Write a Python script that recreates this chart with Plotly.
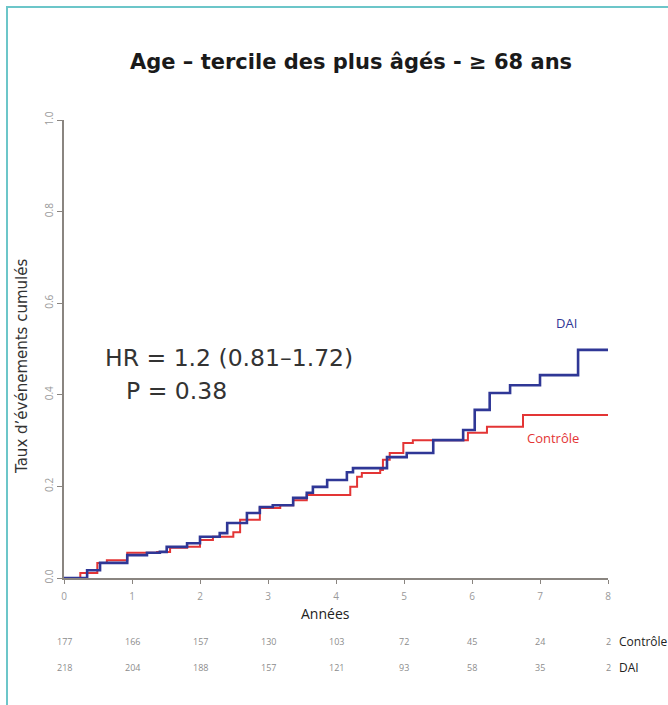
import plotly.graph_objects as go

# ---- data ----
title_text = "Age – tercile des plus âgés - ≥ 68 ans"

dai_t = [0, 0.15, 0.34, 0.53, 0.93, 1.22, 1.41, 1.51, 1.81, 2.00, 2.29, 2.40, 2.69, 2.88,
         3.07, 3.37, 3.57, 3.66, 3.87, 4.16, 4.25, 4.75, 5.04, 5.43, 5.87, 6.04, 6.26,
         6.56, 7.00, 7.56, 8.00]
dai_v = [0, 0.0, 0.017, 0.033, 0.050, 0.055, 0.057, 0.068, 0.076, 0.090, 0.098, 0.120,
         0.142, 0.155, 0.159, 0.175, 0.186, 0.199, 0.214, 0.231, 0.240, 0.264, 0.273,
         0.301, 0.323, 0.367, 0.404, 0.421, 0.443, 0.498, 0.498]

ctl_t = [0, 0.24, 0.49, 0.63, 0.93, 1.37, 1.56, 1.81, 2.00, 2.19, 2.49, 2.59, 2.88, 3.18,
         3.37, 3.57, 4.10, 4.21, 4.31, 4.38, 4.65, 4.69, 4.79, 4.99, 5.13, 5.94, 6.22,
         6.75, 8.00]
ctl_v = [0, 0.011, 0.033, 0.039, 0.055, 0.057, 0.066, 0.068, 0.083, 0.090, 0.100, 0.127,
         0.153, 0.159, 0.170, 0.181, 0.181, 0.199, 0.221, 0.229, 0.236, 0.258, 0.273,
         0.295, 0.301, 0.317, 0.330, 0.356, 0.356]

x_ticks = [0, 1, 2, 3, 4, 5, 6, 7, 8]
y_ticks = [0.0, 0.2, 0.4, 0.6, 0.8, 1.0]
risk_controle = [177, 166, 157, 130, 103, 72, 45, 24, 2]
risk_dai = [218, 204, 188, 157, 121, 93, 58, 35, 2]

hr_line1 = "HR = 1.2 (0.81–1.72)"
hr_line2 = "P = 0.38"

BLUE = "#2f3796"
RED = "#e33535"
AXIS = "#8a8580"
TICKTXT = "#9a9a9a"
FONT = "DejaVu Sans"
FONT2 = "Open Sans"

fig = go.Figure()
fig.add_trace(go.Scatter(x=ctl_t, y=ctl_v, mode="lines", line=dict(color=RED, width=2, shape="hv"),
                         showlegend=False, hoverinfo="skip"))
fig.add_trace(go.Scatter(x=dai_t, y=dai_v, mode="lines", line=dict(color=BLUE, width=2.6, shape="hv"),
                         showlegend=False, hoverinfo="skip"))

L, R, T, B = 64, 60, 120, 127
W, H = 668, 705
pw, ph = W - L - R, H - T - B

def px(xp):
    return (xp - L) / pw

def py(yp):
    return (H - B - yp) / ph

annotations = []
# title
annotations.append(dict(x=px(351), y=py(62), xref="paper", yref="paper", text="<b>" + title_text + "</b>",
                        showarrow=False, font=dict(family=FONT, size=21, color="#1a1a1a"),
                        xanchor="center", yanchor="middle"))
# y axis title
annotations.append(dict(x=px(22), y=py(367), xref="paper", yref="paper", text="Taux d’événements cumulés",
                        textangle=-90, showarrow=False, font=dict(family=FONT, size=15, color="#333333"),
                        xanchor="center", yanchor="middle"))
# x axis title
annotations.append(dict(x=px(325), y=py(613), xref="paper", yref="paper", text="Années",
                        showarrow=False, font=dict(family=FONT2, size=14, color="#222222"),
                        bgcolor="white", borderpad=0, xanchor="center", yanchor="middle"))
# HR text
annotations.append(dict(x=px(103), y=py(358), xref="paper", yref="paper", text=hr_line1,
                        showarrow=False, font=dict(family=FONT, size=23.5, color="#333333"),
                        xanchor="left", yanchor="middle"))
annotations.append(dict(x=px(124), y=py(391), xref="paper", yref="paper", text=hr_line2,
                        showarrow=False, font=dict(family=FONT, size=23.5, color="#333333"),
                        xanchor="left", yanchor="middle"))
# curve labels
annotations.append(dict(x=px(566), y=py(323), xref="paper", yref="paper", text="DAI",
                        showarrow=False, font=dict(family=FONT2, size=13, color=BLUE),
                        xanchor="center", yanchor="middle"))
annotations.append(dict(x=px(553), y=py(438), xref="paper", yref="paper", text="Contrôle",
                        showarrow=False, font=dict(family=FONT2, size=13, color=RED),
                        xanchor="center", yanchor="middle"))
# risk table
for xv, n in zip(x_ticks, risk_controle):
    annotations.append(dict(x=xv, y=py(641), xref="x", yref="paper", text=str(n), showarrow=False,
                            font=dict(family=FONT2, size=9, color="#8c8c8c"), xanchor="center", yanchor="middle"))
for xv, n in zip(x_ticks, risk_dai):
    annotations.append(dict(x=xv, y=py(667), xref="x", yref="paper", text=str(n), showarrow=False,
                            font=dict(family=FONT2, size=9, color="#8c8c8c"), xanchor="center", yanchor="middle"))
annotations.append(dict(x=px(617), y=py(641), xref="paper", yref="paper", text="Contrôle", showarrow=False,
                        font=dict(family=FONT2, size=12, color="#222222"), xanchor="left", yanchor="middle"))
annotations.append(dict(x=px(617), y=py(667), xref="paper", yref="paper", text="DAI", showarrow=False,
                        font=dict(family=FONT2, size=12, color="#222222"), xanchor="left", yanchor="middle"))

shapes = [dict(type="rect", xref="paper", yref="paper", x0=px(7), x1=px(700), y0=py(760), y1=py(7),
               line=dict(color="#6cc6c9", width=2), fillcolor="rgba(0,0,0,0)", layer="below")]

fig.update_layout(
    width=W, height=H, margin=dict(l=L, r=R, t=T, b=B, autoexpand=False),
    paper_bgcolor="white", plot_bgcolor="white",
    annotations=annotations, shapes=shapes,
    xaxis=dict(range=[0, 8], tickvals=x_ticks, ticktext=[str(v) for v in x_ticks],
               showgrid=False, zeroline=False, showline=True, linecolor=AXIS, linewidth=1.5,
               ticks="outside", ticklen=4, tickcolor=AXIS, ticklabelstandoff=4,
               tickfont=dict(family=FONT2, size=10, color=TICKTXT)),
    yaxis=dict(range=[0, 1], tickvals=y_ticks, ticktext=[f"{v:.1f}" for v in y_ticks],
               showgrid=False, zeroline=False, showline=True, linecolor=AXIS, linewidth=1.5,
               ticks="outside", ticklen=5, tickcolor=AXIS, tickangle=-90,
               tickfont=dict(family=FONT2, size=10, color=TICKTXT)),
)

fig.write_html("out.html")
